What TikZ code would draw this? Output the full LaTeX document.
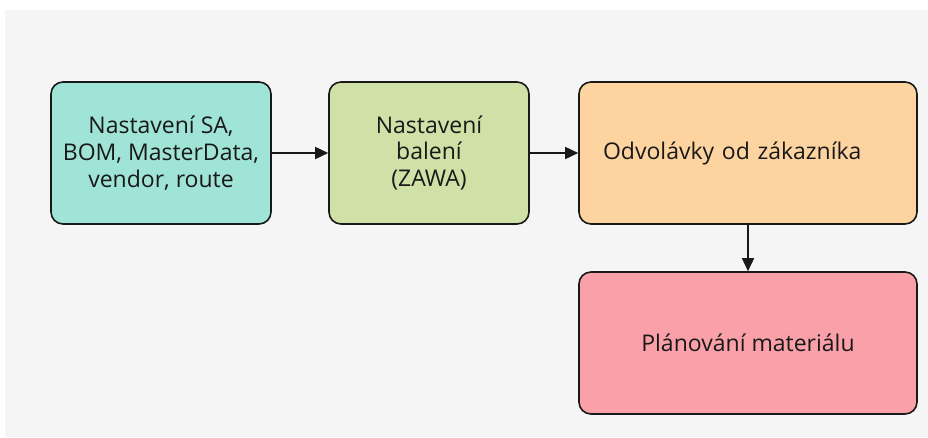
\documentclass[tikz,border=0pt]{standalone}
\usepackage{fontspec}
\setmainfont{Open Sans}
\usetikzlibrary{arrows.meta}

\definecolor{pagegray}{HTML}{F5F5F5}
\definecolor{setupteal}{HTML}{A0E4D7}
\definecolor{packgreen}{HTML}{D0E1A7}
\definecolor{callorange}{HTML}{FDD4A0}
\definecolor{planpink}{HTML}{F9A0A8}

\begin{document}
\begin{tikzpicture}[x=1pt, y=-1pt,
    stagebox/.style = {draw=black!90, line width=1.6pt, rounded corners=12pt,
                       align=center, inner sep=0pt, text=black!90,
                       font=\fontsize{23}{26.7}\selectfont, minimum height=142pt},
    flow/.style     = {-{Triangle[length=13pt, width=12pt]}, line width=1.6pt, draw=black!90}]
  \useasboundingbox (0,0) rectangle (928,437);
  \fill[pagegray] (5,10) rectangle (928,437);
  \node [stagebox, fill=setupteal, minimum width=220pt] (setup) at (161,153)
        {Nastavení SA,\\BOM, MasterData,\\vendor, route};
  \node [stagebox, fill=packgreen, minimum width=200pt] (packing) at (429,153)
        {Nastavení\\balení\\(ZAWA)};
  \node [stagebox, fill=callorange, minimum width=338pt, text width=300pt, align=left] (calloffs) at (748,153)
        {\hspace*{5pt}Odvolávky od zákazníka};
  \node [stagebox, fill=planpink, minimum width=338pt] (planning) at (748,343)
        {Plánování materiálu};
  \draw [flow] (setup) -- (packing);
  \draw [flow] (packing) -- (calloffs);
  \draw [flow] (calloffs) -- (planning);
\end{tikzpicture}
\end{document}
